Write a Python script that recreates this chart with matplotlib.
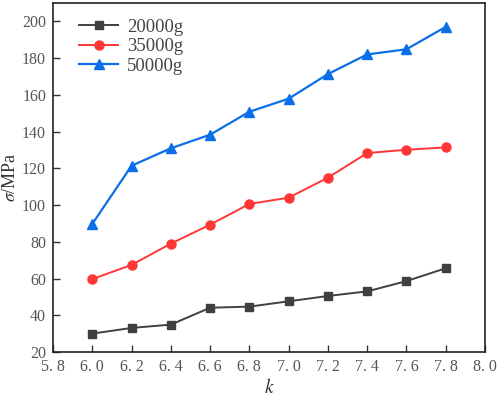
import matplotlib
matplotlib.use("Agg")
import matplotlib.pyplot as plt

# data
k = [6.0, 6.2, 6.4, 6.6, 6.8, 7.0, 7.2, 7.4, 7.6, 7.8]
s_20000 = [30.0, 33.1, 34.9, 44.1, 44.7, 47.6, 50.5, 53.0, 58.6, 65.6]
s_35000 = [59.7, 67.4, 79.0, 89.3, 100.6, 104.0, 114.9, 128.3, 130.1, 131.4]
s_50000 = [89.7, 121.4, 130.9, 138.3, 150.8, 157.9, 171.3, 182.0, 184.8, 197.0]
series_labels = ["20000g", "35000g", "50000g"]

x_ticks = [5.8, 6.0, 6.2, 6.4, 6.6, 6.8, 7.0, 7.2, 7.4, 7.6, 7.8, 8.0]
x_ticklabels = ["5. 8", "6. 0", "6. 2", "6. 4", "6. 6", "6. 8", "7. 0",
                "7. 2", "7. 4", "7. 6", "7. 8", "8. 0"]
y_ticks = [20, 40, 60, 80, 100, 120, 140, 160, 180, 200]

plt.rcParams['font.family'] = ['Liberation Serif', 'DejaVu Serif']
plt.rcParams['mathtext.fontset'] = 'stix'

fig = plt.figure(figsize=(4.98, 3.98), dpi=100)
ax = fig.add_axes([53 / 498, 1 - 352 / 398, (485 - 53) / 498, (352 - 3) / 398])

ax.plot(k, s_20000, color='#404040', marker='s', markersize=6, lw=1.4, label=series_labels[0])
ax.plot(k, s_35000, color='#ff3636', marker='o', markersize=6.5, lw=1.4, label=series_labels[1])
ax.plot(k, s_50000, color='#0a6fe8', marker='^', markersize=7, lw=1.6, label=series_labels[2])

ax.set_xlim(5.8, 8.0)
ax.set_ylim(20, 210)
ax.set_xticks(x_ticks)
ax.set_xticklabels(x_ticklabels)
ax.set_yticks(y_ticks)
ax.tick_params(direction='in', length=5, width=1, labelsize=11.5, colors='#333333',
               labelcolor='#555555', pad=5)
for sp in ax.spines.values():
    sp.set_linewidth(1.2)
    sp.set_color('#222222')

ax.set_xlabel(r'$k$', fontsize=14, color='#333333', labelpad=2)
ax.set_ylabel(r'$\sigma$/MPa', fontsize=13, color='#333333', labelpad=2)

ax.legend(loc='upper left', frameon=False, fontsize=13.5, handlelength=2.1,
          handletextpad=0.45, borderaxespad=0, borderpad=0,
          labelspacing=0.12, labelcolor='#444444',
          bbox_to_anchor=(0.06, 0.955))

fig.savefig("out.png", dpi=100)
